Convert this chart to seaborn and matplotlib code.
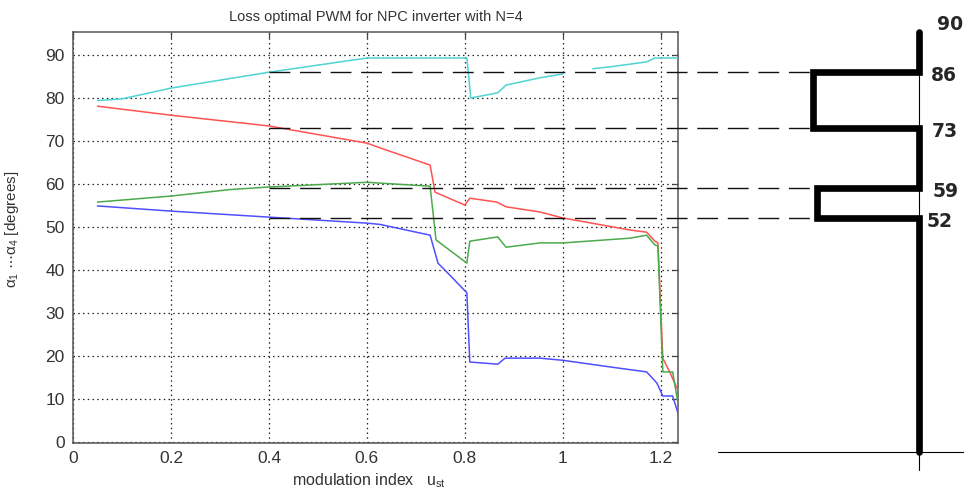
import numpy as np
import pandas as pd
import matplotlib
matplotlib.use("Agg")
import matplotlib.pyplot as plt
import seaborn as sns

# =========================
# DATA
# =========================
cyan_x_a = [0.05, 0.10, 0.20, 0.40, 0.60, 0.804, 0.812, 0.867, 0.884, 0.953, 1.0]
cyan_y_a = [79.4, 79.8, 82.3, 86.0, 89.3, 89.3, 80.0, 81.2, 83.0, 84.7, 85.6]
cyan_x_b = [1.061, 1.10, 1.171, 1.188, 1.235]
cyan_y_b = [86.8, 87.3, 88.4, 89.3, 89.3]

red_x = [0.05, 0.20, 0.40, 0.60, 0.61, 0.627, 0.729, 0.739, 0.80, 0.81,
         0.865, 0.884, 0.953, 1.0, 1.137, 1.171, 1.188, 1.194, 1.204, 1.218, 1.235]
red_y = [78.1, 76.0, 73.5, 69.5, 69.1, 68.4, 64.4, 58.1, 55.1, 56.7,
         55.8, 54.7, 53.5, 52.1, 49.3, 48.8, 46.7, 46.3, 19.5, 16.3, 12.0]

green_x = [0.05, 0.20, 0.32, 0.40, 0.60, 0.627, 0.729, 0.741, 0.804, 0.81,
           0.867, 0.884, 0.953, 1.0, 1.137, 1.171, 1.188, 1.194, 1.204, 1.224, 1.235]
green_y = [55.8, 57.2, 58.7, 59.3, 60.4, 60.2, 59.5, 47.0, 41.6, 46.7,
           47.7, 45.3, 46.3, 46.3, 47.4, 48.1, 45.8, 45.6, 16.3, 16.3, 9.0]

blue_x = [0.05, 0.20, 0.40, 0.60, 0.627, 0.729, 0.745, 0.765, 0.804, 0.81,
          0.867, 0.882, 0.953, 1.0, 1.10, 1.171, 1.192, 1.204, 1.224, 1.235]
blue_y = [54.9, 53.7, 52.3, 50.9, 50.6, 48.1, 41.6, 39.3, 34.7, 18.6,
          18.1, 19.5, 19.5, 19.0, 17.4, 16.3, 13.7, 10.7, 10.7, 6.7]

wave_levels = [86, 73, 59, 52]
wave_top_label = 90
xtick_vals = [0, 0.2, 0.4, 0.6, 0.8, 1.0, 1.2]
xtick_labels = ["0", "0.2", "0.4", "0.6", "0.8", "1", "1.2"]
ytick_vals = [0, 10, 20, 30, 40, 50, 60, 70, 80, 90]

# long-form table for seaborn
parts = [
    ("a4", "a4_1", cyan_x_a, cyan_y_a),
    ("a4", "a4_2", cyan_x_b, cyan_y_b),
    ("a3", "a3", red_x, red_y),
    ("a2", "a2", green_x, green_y),
    ("a1", "a1", blue_x, blue_y),
]
df = pd.concat(
    [pd.DataFrame({"x": xs, "angle": ys, "alpha": name, "segment": seg})
     for name, seg, xs, ys in parts],
    ignore_index=True,
)

palette = {"a4": "#4fd3d3", "a3": "#ff5252", "a2": "#4caa4c", "a1": "#4f4fff"}

# =========================
# STYLE
# =========================
sns.set_theme(style="white")
plt.rcParams["font.family"] = ["Liberation Sans", "DejaVu Sans"]
plt.rcParams["mathtext.fontset"] = "custom"
plt.rcParams["mathtext.rm"] = "Liberation Sans"
plt.rcParams["mathtext.it"] = "Liberation Sans"

fig = plt.figure(figsize=(9.64, 4.91), dpi=100)
ax = fig.add_axes([73 / 964, 48 / 491, 605 / 964, 411 / 491])

sns.lineplot(data=df, x="x", y="angle", hue="alpha", units="segment",
             estimator=None, sort=False, palette=palette, linewidth=1.1,
             legend=False, ax=ax, zorder=3)

ax.set_xlim(0, 1.235)
ax.set_ylim(-0.23, 95.35)
ax.set_xticks(xtick_vals, xtick_labels)
ax.set_yticks(ytick_vals)
ax.grid(True, color="#222222", linestyle=(0, (1.2, 2.6)), linewidth=0.9)
ax.tick_params(direction="in", length=4, width=0.9, color="#444444",
               labelsize=12.5, labelcolor="#333333", top=True, right=True, pad=6)
for sp in ax.spines.values():
    sp.set_color("#555555")
    sp.set_linewidth(1.1)

ax.set_title("Loss optimal PWM for NPC inverter with N=4", fontsize=10.5,
             color="#333333", pad=8)
ax.set_xlabel("modulation index   u$_{st}$", fontsize=11.5, color="#333333")
ax.set_ylabel(r"$\alpha_1$ $\cdots\alpha_4$ [degrees]", fontsize=11, color="#333333")
ax.xaxis.set_label_coords(0.49, -0.068)
ax.yaxis.set_label_coords(-0.086, 0.52)

# =========================
# SWITCHING WAVEFORM ON THE RIGHT
# =========================
x_right = 1.727
x_left = [1.510, 1.510, 1.518, 1.518]
y_top, y_bot = 95.35, -2.3

# dashed guides from the curves to the waveform
for lev, xl in zip(wave_levels, x_left):
    ax.plot([0.4, xl], [lev, lev], color="#111111", linewidth=1.0,
            dashes=(15, 7), clip_on=False, zorder=4)

# thin axes of the waveform
ax.plot([x_right, x_right], [y_top, -6.5], color="black", linewidth=0.8,
        clip_on=False, zorder=4)
ax.plot([1.316, 1.98], [y_bot, y_bot], color="black", linewidth=0.8,
        clip_on=False, zorder=4)

# thick pulse waveform
wx, wy = [x_right], [y_top]
for lev, xl, k in zip(wave_levels, x_left, range(len(wave_levels))):
    if k % 2 == 0:
        wx += [x_right, xl]
    else:
        wx += [xl, x_right]
    wy += [lev, lev]
wx.append(x_right)
wy.append(y_bot)
ax.plot(wx, wy, color="black", linewidth=4.8, solid_joinstyle="miter",
        clip_on=False, zorder=5)

# level labels
lab_x = [1.751, 1.753, 1.755, 1.743]
for lev, lx in zip(wave_levels, lab_x):
    ax.text(lx, lev - 0.8, str(lev), fontsize=13.5, fontweight="bold",
            family="DejaVu Sans", va="center", ha="left", clip_on=False)
ax.text(1.763, 97.0, str(wave_top_label), fontsize=13.5, fontweight="bold",
        family="DejaVu Sans", va="center", ha="left", clip_on=False)

fig.savefig("out.png", dpi=100)
